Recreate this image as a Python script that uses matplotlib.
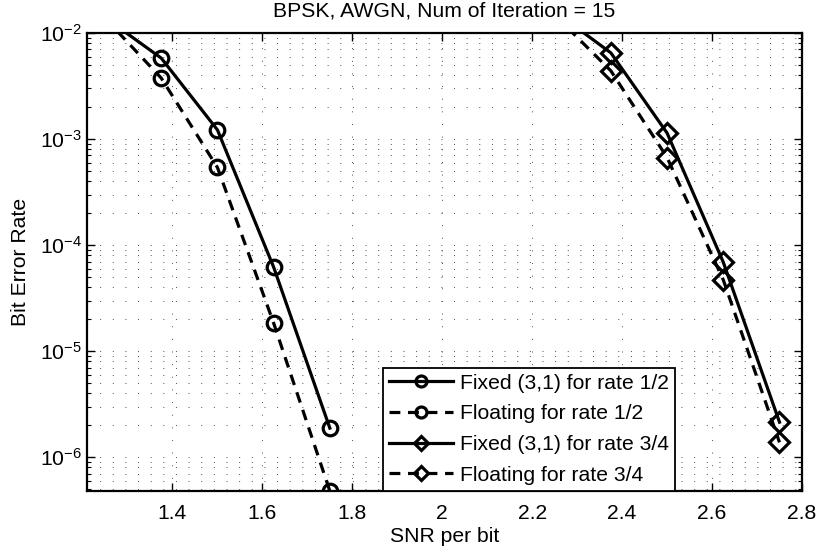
import numpy as np
import matplotlib
matplotlib.use("Agg")
import matplotlib.pyplot as plt

plt.rcParams['font.family'] = ['Liberation Sans', 'DejaVu Sans']

# SNR per bit
snr_half = [1.25, 1.375, 1.5, 1.625, 1.75]
snr_3q = [2.25, 2.375, 2.5, 2.625, 2.75]

# bit error rates
fixed_half = [1.4e-2, 5.8e-3, 1.22e-3, 6.2e-5, 1.88e-6]
float_half = [1.38e-2, 3.76e-3, 5.4e-4, 1.84e-5, 4.8e-7]
fixed_3q = [1.6e-2, 6.5e-3, 1.14e-3, 6.9e-5, 2.14e-6]
float_3q = [1.48e-2, 4.4e-3, 6.7e-4, 4.7e-5, 1.38e-6]

labels = ['Fixed (3,1) for rate 1/2', 'Floating for rate 1/2',
          'Fixed (3,1) for rate 3/4', 'Floating for rate 3/4']
xticks = [1.4, 1.6, 1.8, 2.0, 2.2, 2.4, 2.6, 2.8]
xticklabels = ['1.4', '1.6', '1.8', '2', '2.2', '2.4', '2.6', '2.8']

fs = 15.2

fig = plt.figure(figsize=(8.18, 5.53), dpi=100)
ax = fig.add_axes([0.1064, 0.1121, 0.874, 0.8282])

kw = dict(color='k', lw=2.3, mew=2.3, mfc='none')
dash = (3.4, 2.4)
ax.semilogy(snr_half, fixed_half, '-o', ms=10.5, label=labels[0], **kw)
ax.semilogy(snr_half, float_half, '--o', ms=10.5, dashes=dash, label=labels[1], **kw)
ax.semilogy(snr_3q, fixed_3q, '-D', ms=10, label=labels[2], **kw)
ax.semilogy(snr_3q, float_3q, '--D', ms=10, dashes=dash, label=labels[3], **kw)

ax.set_xlim(1.21, 2.8)
ax.set_ylim(4.8e-7, 1e-2)
ax.set_xticks(xticks)
ax.set_xticklabels(xticklabels)
ax.set_yticks([1e-6, 1e-5, 1e-4, 1e-3, 1e-2])

ax.grid(True, which='major', color='0.3', linestyle=(0, (1, 12)), lw=0.7)
ax.grid(True, which='minor', axis='y', color='0.3', linestyle=(0, (1, 12)), lw=0.7)
ax.tick_params(which='both', direction='in', top=True, right=True, labelsize=fs)
ax.tick_params(axis='x', which='major', pad=9)
ax.tick_params(which='major', length=6, width=1)
ax.tick_params(which='minor', length=3, width=0.8)
for s in ax.spines.values():
    s.set_linewidth(1.6)

ax.set_xlabel('SNR per bit', fontsize=fs, labelpad=3)
ax.set_ylabel('Bit Error Rate', fontsize=fs, labelpad=7)
ax.set_title('BPSK, AWGN, Num of Iteration = 15', fontsize=fs, pad=12)

leg = ax.legend(loc='lower left', bbox_to_anchor=(0.414, 0.0), fontsize=fs,
                handlelength=3.0, borderpad=0.3, labelspacing=0.55,
                handletextpad=0.35, borderaxespad=0, fancybox=False,
                framealpha=1, edgecolor='k', markerscale=0.75)
leg.get_frame().set_linewidth(1.3)

fig.savefig('out.png', dpi=100)
